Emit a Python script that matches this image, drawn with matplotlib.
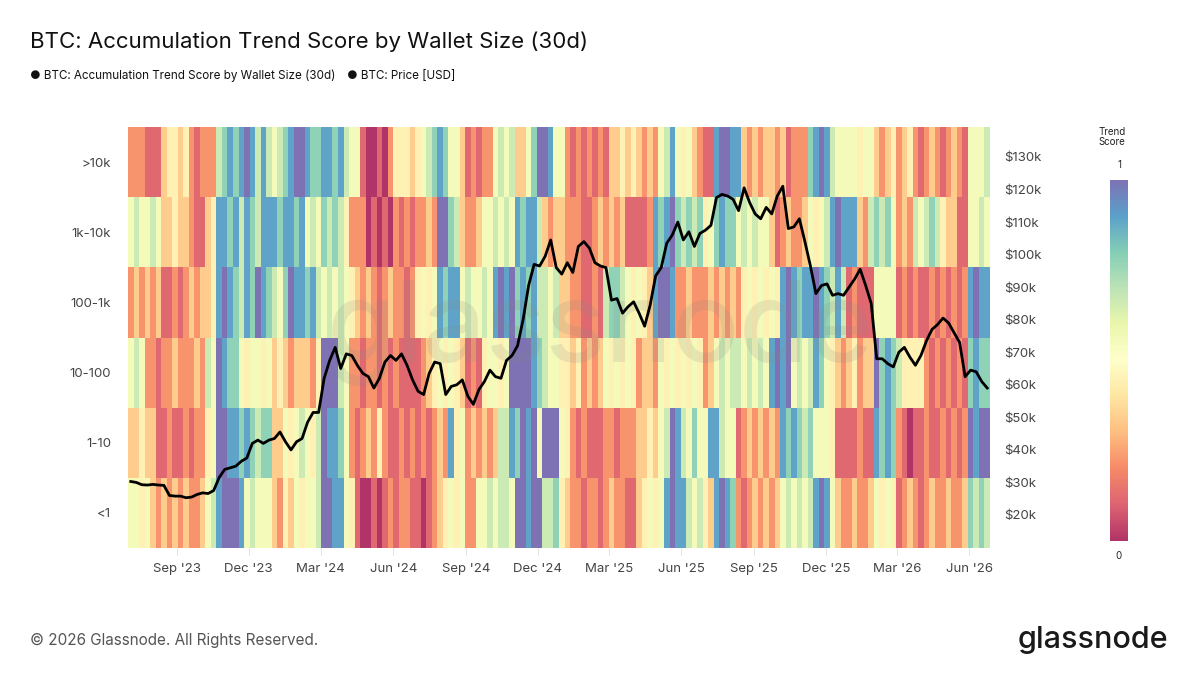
import numpy as np
import pandas as pd
import matplotlib
matplotlib.use("Agg")
import matplotlib.pyplot as plt
import matplotlib.dates as mdates
from matplotlib.colors import ListedColormap

plt.rcParams['font.family'] = ['Inter', 'DejaVu Sans']

# Datos: puntuacion semanal (escala 0-9 -> 0-1), desde 1 jul 2023
start = pd.Timestamp('2023-07-01')
row_labels = ['>10k', '1k-10k', '100-1k', '10-100', '1-10', '<1']

score_gt10k = [2,2,2,1,1,1,3,4,4,3,4,2,1,2,2,2,6,7,8,7,8,9,8,6,8,6,
               5,6,7,8,9,9,8,7,7,8,8,7,8,6,5,5,1,0,0,1,0,2,4,4,4,3,
               4,5,6,7,8,7,5,5,3,1,2,1,2,2,5,6,5,6,3,3,5,7,9,9,8,5,
               5,2,1,2,1,2,1,2,1,3,3,4,3,4,3,2,3,2,5,6,8,5,4,5,3,2,
               1,1,8,9,9,8,8,3,2,3,2,3,3,2,3,1,2,2,2,7,8,9,8,6,5,5,
               5,5,4,5,5,3,2,3,4,2,3,4,2,1,2,3,2,1,2,3,2,1,5,5,5,6]
score_1k_10k = [5,6,5,5,6,5,3,3,4,3,3,2,1,1,3,4,8,8,7,8,6,8,7,6,8,8,
                8,7,8,8,7,8,5,6,5,7,6,7,6,4,2,2,2,0,1,0,1,0,2,1,2,1,
                2,2,3,2,9,9,7,6,3,2,2,3,5,5,6,5,6,5,8,7,8,8,6,3,2,3,
                3,2,2,2,1,1,2,3,2,3,2,3,1,1,1,1,2,8,7,8,9,7,6,7,6,7,
                4,5,7,8,7,7,5,6,5,6,5,5,3,1,2,3,2,2,3,5,4,5,6,8,9,8,
                8,8,3,2,6,7,6,7,5,2,3,2,6,5,6,7,6,4,3,3,1,1,5,5,6,5]
score_100_1k = [2,3,2,3,2,3,1,1,2,1,2,3,2,3,3,4,8,9,8,7,6,8,7,9,8,7,
                6,5,7,9,8,8,7,8,6,5,6,5,6,5,4,3,2,3,2,1,2,3,2,2,1,2,
                4,5,4,5,8,7,8,8,5,6,5,5,6,5,8,9,8,9,7,8,7,8,6,6,5,6,
                3,3,2,2,1,1,2,1,6,7,7,6,5,4,5,4,3,8,9,9,8,2,2,3,2,2,
                2,3,2,3,2,3,2,4,5,4,5,4,5,4,8,9,8,7,8,8,9,8,7,6,8,6,
                1,2,1,1,1,5,5,5,5,1,2,1,2,1,1,2,1,2,1,2,1,2,8,9,8,8]
score_10_100 = [5,6,5,2,2,1,2,2,3,2,2,2,3,2,6,5,9,8,7,7,5,4,5,5,4,5,
                3,4,3,2,3,3,3,2,4,9,9,9,6,5,2,2,1,2,2,1,2,1,2,1,1,1,
                1,2,3,4,5,4,5,4,3,1,2,1,4,5,5,4,5,9,9,9,9,8,7,6,5,5,
                4,4,3,4,2,3,2,3,5,4,5,4,5,4,2,3,3,2,5,4,5,4,5,4,5,4,
                2,3,5,6,5,6,6,5,6,5,6,5,8,9,8,9,5,6,5,6,8,7,5,4,3,2,
                3,4,2,3,3,9,7,8,7,6,4,4,4,4,2,1,2,1,2,1,2,1,7,8,7,7]
score_1_10 = [3,3,4,3,3,1,1,2,1,1,2,1,2,2,4,5,9,9,8,8,7,8,7,6,7,7,
              3,3,5,4,5,6,5,4,6,9,8,8,7,5,2,1,2,3,2,4,2,1,1,2,1,2,
              1,2,1,2,3,2,8,4,5,2,3,2,3,2,3,6,6,8,7,9,8,9,5,9,9,9,
              5,4,2,1,2,1,1,1,2,2,1,2,2,2,3,3,4,3,5,6,9,8,6,5,7,5,
              5,8,8,6,5,5,1,2,3,2,3,2,3,2,8,7,8,7,6,7,5,5,5,4,1,1,
              1,1,2,1,1,8,7,8,7,2,1,0,1,1,2,1,1,2,1,2,1,2,9,8,9,9]
score_lt1 = [5,5,4,5,3,2,3,2,3,2,3,2,2,3,5,6,8,9,9,9,8,5,6,5,5,5,
             3,2,4,3,5,4,5,5,6,9,9,8,8,5,4,1,0,0,1,0,1,2,1,2,2,1,
             1,0,1,2,3,4,5,4,5,2,2,5,5,6,5,6,6,5,9,9,8,9,9,6,6,7,
             4,3,2,2,1,2,2,1,2,3,2,2,1,1,3,4,5,4,5,8,9,8,8,6,5,6,
             4,3,8,9,8,7,2,1,2,3,2,3,2,3,5,6,5,6,5,6,8,9,8,5,3,2,
             2,3,2,2,3,5,4,5,4,1,2,3,2,1,2,3,2,2,3,2,2,3,7,6,7,6]

# Precio semanal (miles de USD)
price_k = [30.3,30.0,29.3,29.2,29.4,29.2,29.1,26.0,25.8,25.8,25.3,25.5,26.3,26.8,26.6,27.5,31.5,34.0,34.5,35.0,36.5,37.5,42.0,43.0,42.0,43.0,
           43.5,45.5,42.5,40.0,42.5,43.5,48.5,51.5,51.5,62.0,67.5,71.5,65.0,69.5,69.0,66.0,63.5,62.5,59.0,62.0,67.0,69.0,67.5,69.5,66.0,61.5,
           58.0,57.0,63.5,67.0,66.5,57.0,59.5,60.0,61.5,56.5,54.0,58.5,61.0,64.5,62.5,62.0,67.5,69.0,72.0,80.0,90.5,97.0,96.5,99.5,104.5,96.0,
           94.0,97.5,94.5,102.5,104.0,102.0,97.5,96.5,96.0,86.0,86.5,82.0,84.0,85.5,82.0,78.0,84.5,93.5,96.0,103.5,106.0,110.0,104.5,107.0,102.5,106.5,
           107.5,109.0,117.5,118.5,118.0,117.0,113.5,120.5,116.0,112.5,111.0,114.5,112.5,118.0,121.0,108.0,108.5,111.0,104.0,96.5,88.0,90.5,91.0,87.5,88.0,87.5,
           90.0,92.5,95.5,90.5,85.0,68.0,68.0,66.5,65.5,70.0,71.5,68.5,66.0,69.0,73.5,77.0,78.5,80.5,79.0,76.0,73.0,62.5,64.5,64.0,61.0,59.0]

tick_dates = ['2023-09-01', '2023-12-01', '2024-03-01', '2024-06-01', '2024-09-01', '2024-12-01',
              '2025-03-01', '2025-06-01', '2025-09-01', '2025-12-01', '2026-03-01', '2026-06-01']
tick_labels = ["Sep '23", "Dec '23", "Mar '24", "Jun '24", "Sep '24", "Dec '24",
               "Mar '25", "Jun '25", "Sep '25", "Dec '25", "Mar '26", "Jun '26"]
price_ticks = [20, 30, 40, 50, 60, 70, 80, 90, 100, 110, 120, 130]

# Paleta Spectral aclarada
base = plt.get_cmap('Spectral')(np.linspace(0, 1, 256))
base[:, :3] = base[:, :3] * 0.8 + 0.2
cmap = ListedColormap(base)

rows = [score_gt10k, score_1k_10k, score_100_1k, score_10_100, score_1_10, score_lt1]
Z = np.array(rows[::-1], dtype=float) / 9.0
n = Z.shape[1]
edges = mdates.date2num(pd.date_range(start, periods=n + 1, freq='7D'))
mids = mdates.date2num(pd.date_range(start + pd.Timedelta(days=3.5), periods=n, freq='7D'))

fig = plt.figure(figsize=(12, 6.75), dpi=100)
ax = fig.add_axes([128 / 1200, 127 / 675, 862 / 1200, 421 / 675])
ax.pcolormesh(edges, np.arange(7), Z, cmap=cmap, vmin=0, vmax=1, shading='flat', zorder=1)
ax.set_xlim(edges[0], edges[-1])
ax.set_ylim(0, 6)
ax.set_yticks(np.arange(6) + 0.5)
ax.set_yticklabels(row_labels[::-1])
ax.set_xticks(mdates.date2num(pd.to_datetime(tick_dates)))
ax.set_xticklabels(tick_labels)
ax.tick_params(axis='x', length=5, color='#e3e3e3', labelsize=9.5, labelcolor='#444', pad=6)
ax.tick_params(axis='y', length=0, labelsize=9.5, labelcolor='#444', pad=12)
for s in ax.spines.values():
    s.set_visible(False)

# marca de agua
ax.text(0.548, 0.51, 'glassnode', transform=ax.transAxes, ha='center', va='center',
        fontsize=80, color='#888888', alpha=0.16, zorder=2, fontweight='medium')

ax2 = ax.twinx()
ax2.plot(mids, price_k, color='black', lw=2.0, zorder=3)
ax2.set_ylim(9.86, 139.2)
ax2.set_yticks(price_ticks)
ax2.set_yticklabels([f'${v}k' for v in price_ticks])
ax2.tick_params(axis='y', length=0, labelsize=9.5, labelcolor='#444', pad=10)
for s in ax2.spines.values():
    s.set_visible(False)

# barra de color
cax = fig.add_axes([1110 / 1200, (675 - 541) / 675, 18 / 1200, 361 / 675])
cax.imshow(np.linspace(1, 0, 256).reshape(-1, 1), aspect='auto', cmap=cmap, vmin=0, vmax=1)
cax.axis('off')
fig.text(1112 / 1200, 1 - 137 / 675, 'Trend\nScore', ha='center', va='center', fontsize=7, color='#222', linespacing=1.1)
fig.text(1119 / 1200, 1 - 165 / 675, '1', ha='center', va='center', fontsize=7, color='#222')
fig.text(1119 / 1200, 1 - 556 / 675, '0', ha='center', va='center', fontsize=7, color='#222')

# titulo y leyenda
fig.text(30 / 1200, 1 - 42 / 675, 'BTC: Accumulation Trend Score by Wallet Size (30d)',
         ha='left', va='center', fontsize=16, color='#111')
fig.text(30 / 1200, 1 - 76 / 675, '\u25CF BTC: Accumulation Trend Score by Wallet Size (30d)',
         ha='left', va='center', fontsize=8.4, color='#111')
fig.text(347 / 1200, 1 - 76 / 675, '\u25CF BTC: Price [USD]',
         ha='left', va='center', fontsize=8.4, color='#111')

fig.text(30 / 1200, 1 - 640 / 675, '\u00A9 2026 Glassnode. All Rights Reserved.',
         ha='left', va='center', fontsize=11, color='#555')
fig.text(1168 / 1200, 1 - 640 / 675, 'glassnode', ha='right', va='center',
         fontsize=22, color='#1a1a1a', fontweight='medium')

fig.savefig('out.png', dpi=100, facecolor='white')
